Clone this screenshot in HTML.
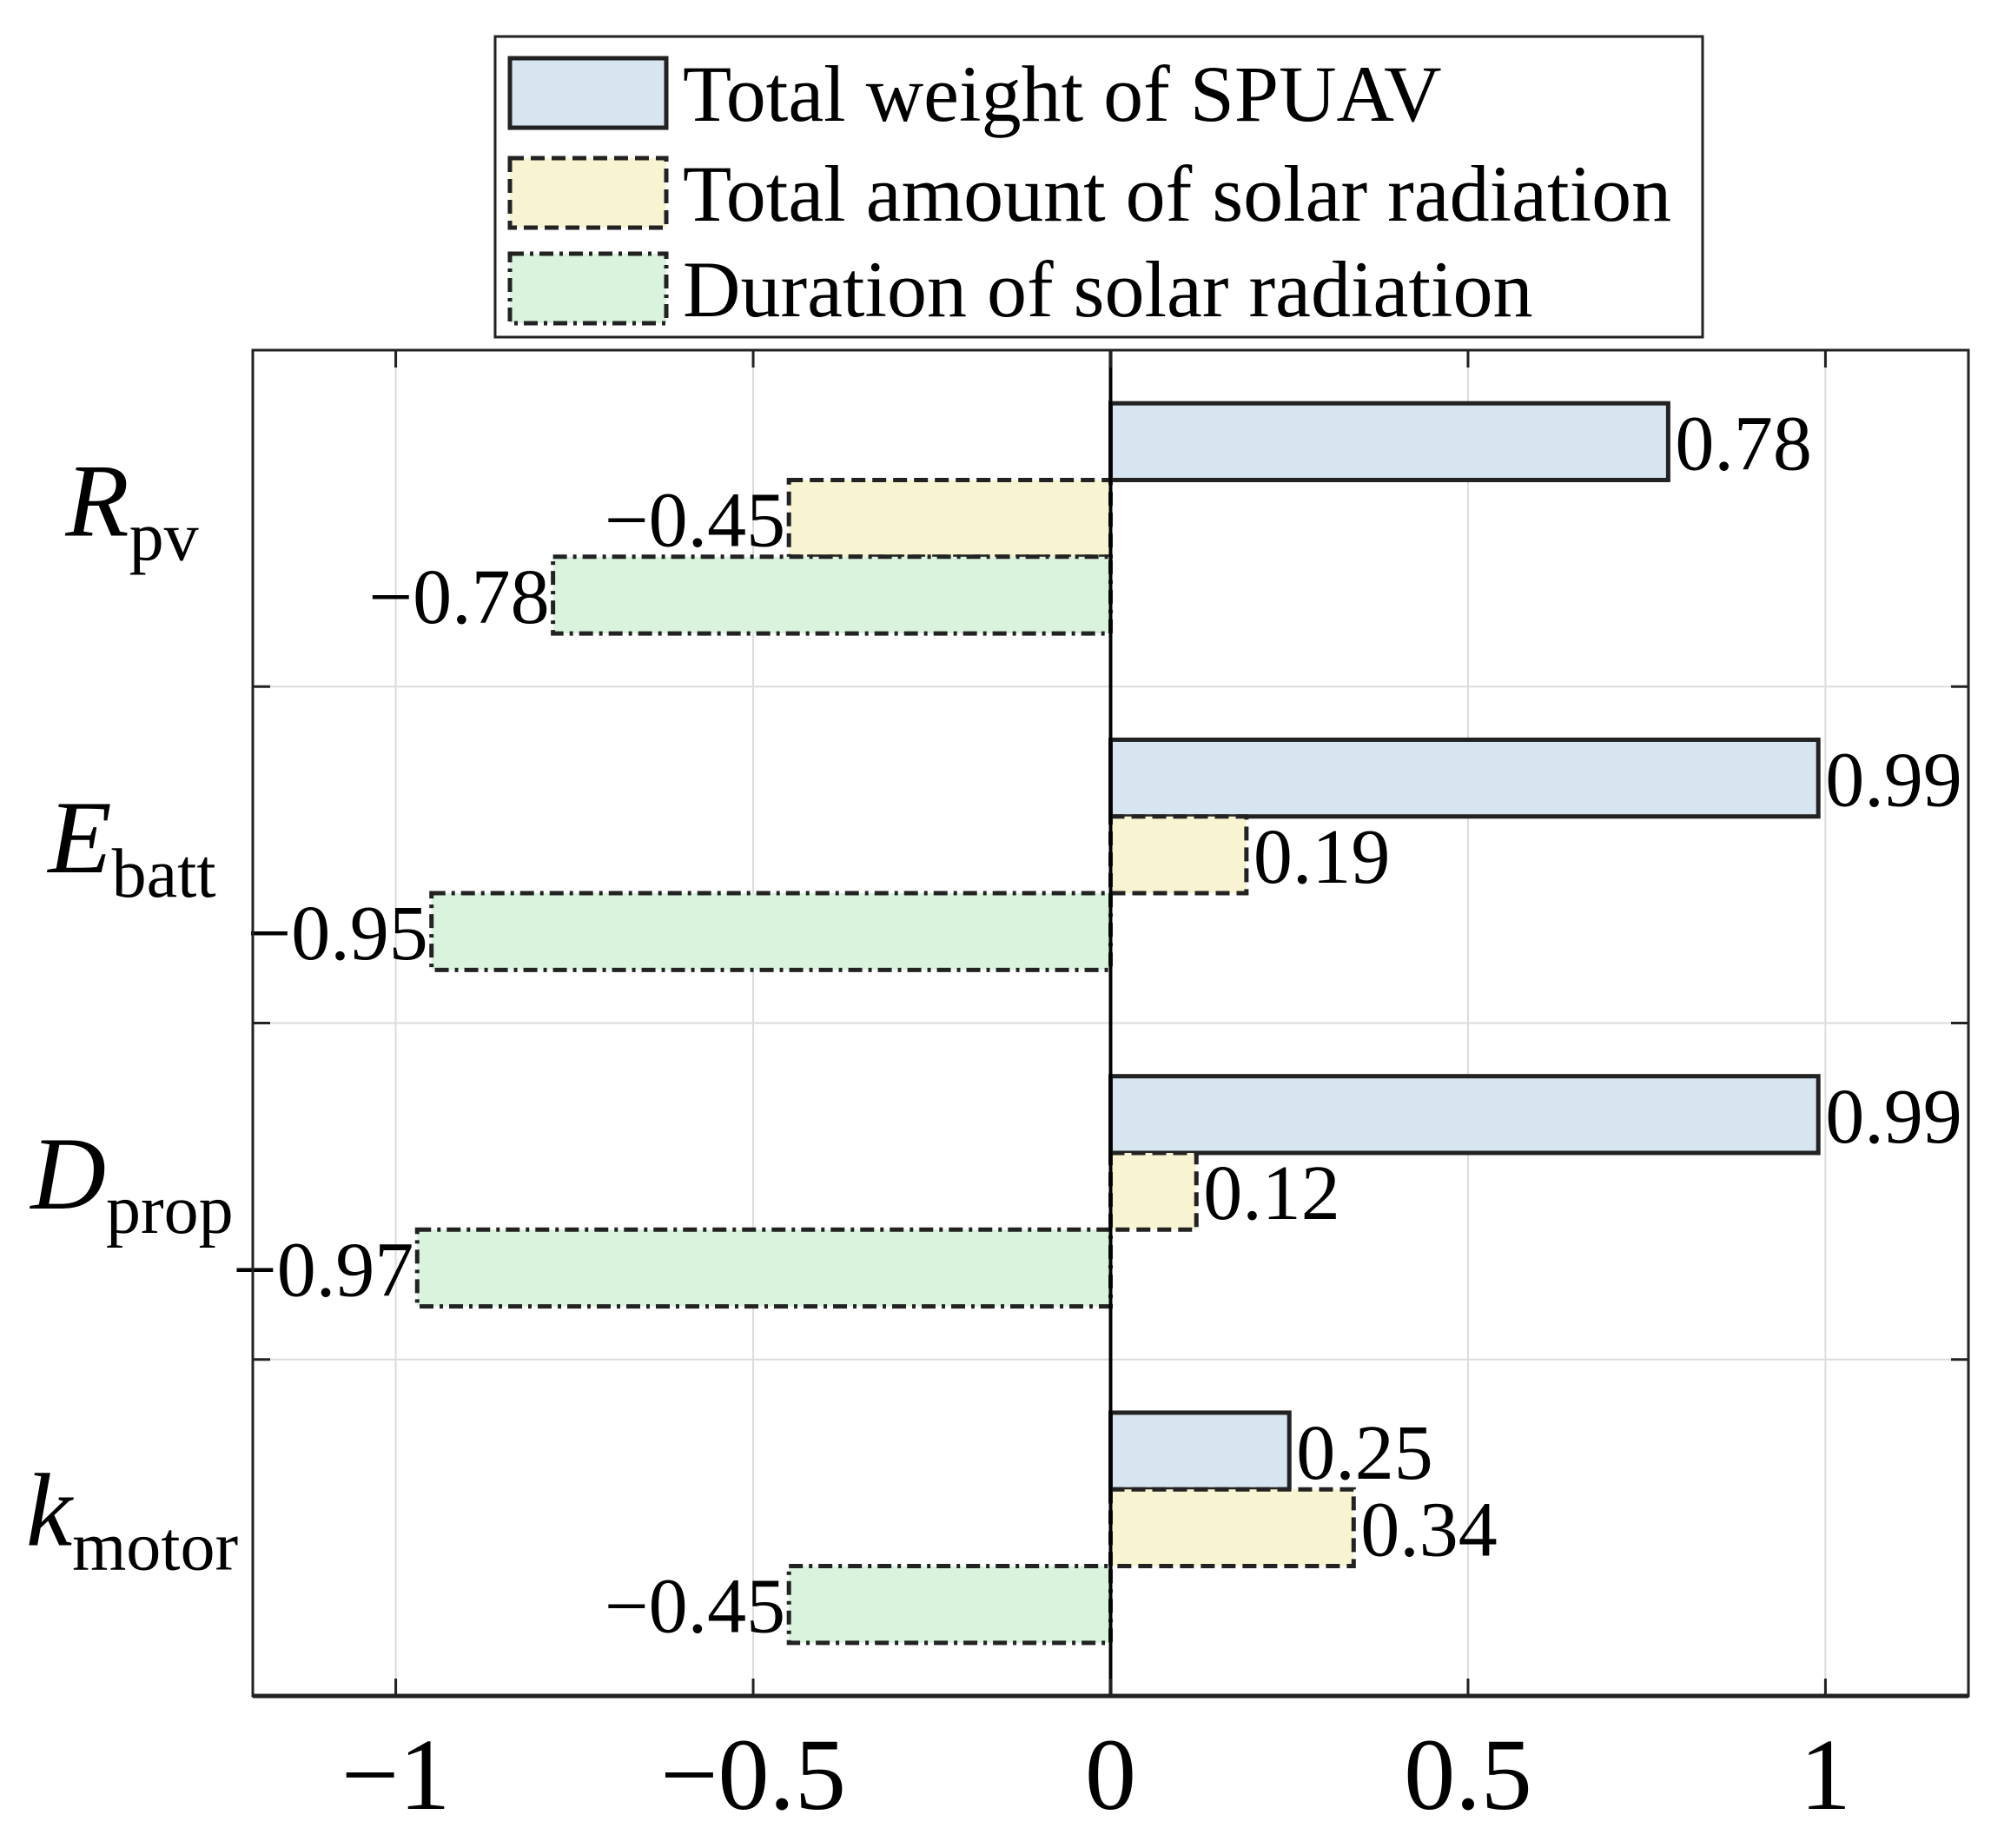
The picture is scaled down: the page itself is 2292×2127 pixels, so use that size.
<!DOCTYPE html>
<html><head><meta charset="utf-8"><style>
html,body{margin:0;padding:0;background:#fff;}
svg{display:block;font-family:"Liberation Serif",serif;}
</style></head><body>
<svg id="chart" width="2292" height="2127" viewBox="0 0 2292 2127" xmlns="http://www.w3.org/2000/svg">
<g id="grid"></g>
<g id="bars"></g>
<g id="axes"></g>
<g id="legend"></g>
</svg>
<script>
const categories = ["R", "E", "D", "k"];
const categorySubs = ["pv", "batt", "prop", "motor"];
const seriesNames = ["Total weight of SPUAV", "Total amount of solar radiation", "Duration of solar radiation"];
const weightValues = [0.78, 0.99, 0.99, 0.25];
const amountValues = [-0.45, 0.19, 0.12, 0.34];
const durationValues = [-0.78, -0.95, -0.97, -0.45];
const xTicks = [-1, -0.5, 0, 0.5, 1];
const xTickLabels = ["\u22121", "\u22120.5", "0", "0.5", "1"];

const NS = "http://www.w3.org/2000/svg";
const L = 291, R = 2266, T = 403, B = 1952;
const xMin = -1.2, xMax = 1.2;
function xs(v){ return L + (v - xMin) / (xMax - xMin) * (R - L); }
const bandH = (B - T) / categories.length;
function bandY(i){ return T + i * bandH; }
const barH = bandH * 0.228;
function mk(tag, attrs, parent){ const e = document.createElementNS(NS, tag); for (const k in attrs) e.setAttribute(k, attrs[k]); parent.appendChild(e); return e; }

const grid = document.getElementById('grid');
const bars = document.getElementById('bars');
const axes = document.getElementById('axes');
const legend = document.getElementById('legend');

xTicks.forEach((t, i) => {
  const g = mk('line', {x1: xs(t), x2: xs(t), y1: T, y2: B, stroke: '#dcdcdc', 'stroke-width': 2}, grid);
  
  
});
for (let i = 1; i < categories.length; i++) {
  const g = mk('line', {x1: L, x2: R, y1: bandY(i), y2: bandY(i), stroke: '#dcdcdc', 'stroke-width': 2}, grid);
  
  
}

const styles = [
  {fill: '#d7e5f1', dash: null, cls: 'weight'},
  {fill: '#f8f3d0', dash: '16,8', cls: 'amount'},
  {fill: '#d9f3dd', dash: '16,7,4,7', cls: 'duration'}
];
const seriesValues = [weightValues, amountValues, durationValues];
const x0 = xs(0);
seriesValues.forEach((vals, s) => {
  vals.forEach((v, i) => {
    const cy = bandY(i) + bandH / 2 + (s - 1) * barH;
    const y = cy - barH / 2;
    const xv = xs(v);
    const attrs = {x: Math.min(x0, xv), y: y, width: Math.abs(xv - x0), height: barH, fill: styles[s].fill, stroke: '#222', 'stroke-width': 5};
    if (styles[s].dash) attrs['stroke-dasharray'] = styles[s].dash;
    const r = mk('rect', attrs, bars);
    
    
    const label = (v < 0 ? '\u2212' : '') + Math.abs(v).toFixed(2);
    const t = mk('text', {x: v < 0 ? xv - 4 : xv + 8, y: cy + 32, 'font-size': 90, 'text-anchor': v < 0 ? 'end' : 'start', fill: '#000'}, bars);
    t.textContent = label;
    
    
  });
});

const zl = mk('line', {x1: x0, x2: x0, y1: T, y2: B, stroke: '#000', 'stroke-width': 4}, axes);


const fr = mk('rect', {x: L, y: T, width: R - L, height: B - T, fill: 'none', stroke: '#222', 'stroke-width': 3}, axes);


const bl = mk('line', {x1: L, x2: R, y1: B, y2: B, stroke: '#222', 'stroke-width': 5}, axes);


xTicks.forEach((t, i) => {
  const a = mk('line', {x1: xs(t), x2: xs(t), y1: B, y2: B - 20, stroke: '#222', 'stroke-width': 3}, axes);
  
  
  const b = mk('line', {x1: xs(t), x2: xs(t), y1: T, y2: T + 20, stroke: '#222', 'stroke-width': 3}, axes);
  
  
  const lab = mk('text', {x: xs(t), y: 2082, 'font-size': 118, 'text-anchor': 'middle', fill: '#000'}, axes);
  lab.textContent = xTickLabels[i];
  
  
});
for (let i = 1; i < categories.length; i++) {
  const a = mk('line', {x1: L, x2: L + 20, y1: bandY(i), y2: bandY(i), stroke: '#222', 'stroke-width': 3}, axes);
  
  
  const b = mk('line', {x1: R, x2: R - 20, y1: bandY(i), y2: bandY(i), stroke: '#222', 'stroke-width': 3}, axes);
  
  
}
categories.forEach((c, i) => {
  const cy = bandY(i) + bandH / 2;
  const t = mk('text', {x: 152, y: cy + 20, 'text-anchor': 'middle', fill: '#000'}, axes);
  const m = mk('tspan', {'font-size': 120, 'font-style': 'italic'}, t);
  m.textContent = c;
  const s = mk('tspan', {'font-size': 80, dy: 28}, t);
  s.textContent = categorySubs[i];
  
  
});

const lb = mk('rect', {x: 570, y: 42, width: 1390, height: 346, fill: '#fff', stroke: '#222', 'stroke-width': 3}, legend);


const rowY = [107, 222, 332];
seriesNames.forEach((n, s) => {
  const attrs = {x: 587, y: rowY[s] - 40, width: 180, height: 80, fill: styles[s].fill, stroke: '#222', 'stroke-width': 5};
  if (styles[s].dash) attrs['stroke-dasharray'] = styles[s].dash;
  const r = mk('rect', attrs, legend);
  
  
  const t = mk('text', {x: 786, y: rowY[s] + 32, 'font-size': 92, fill: '#000'}, legend);
  t.textContent = n;
  
  
});
</script>
</body></html>
